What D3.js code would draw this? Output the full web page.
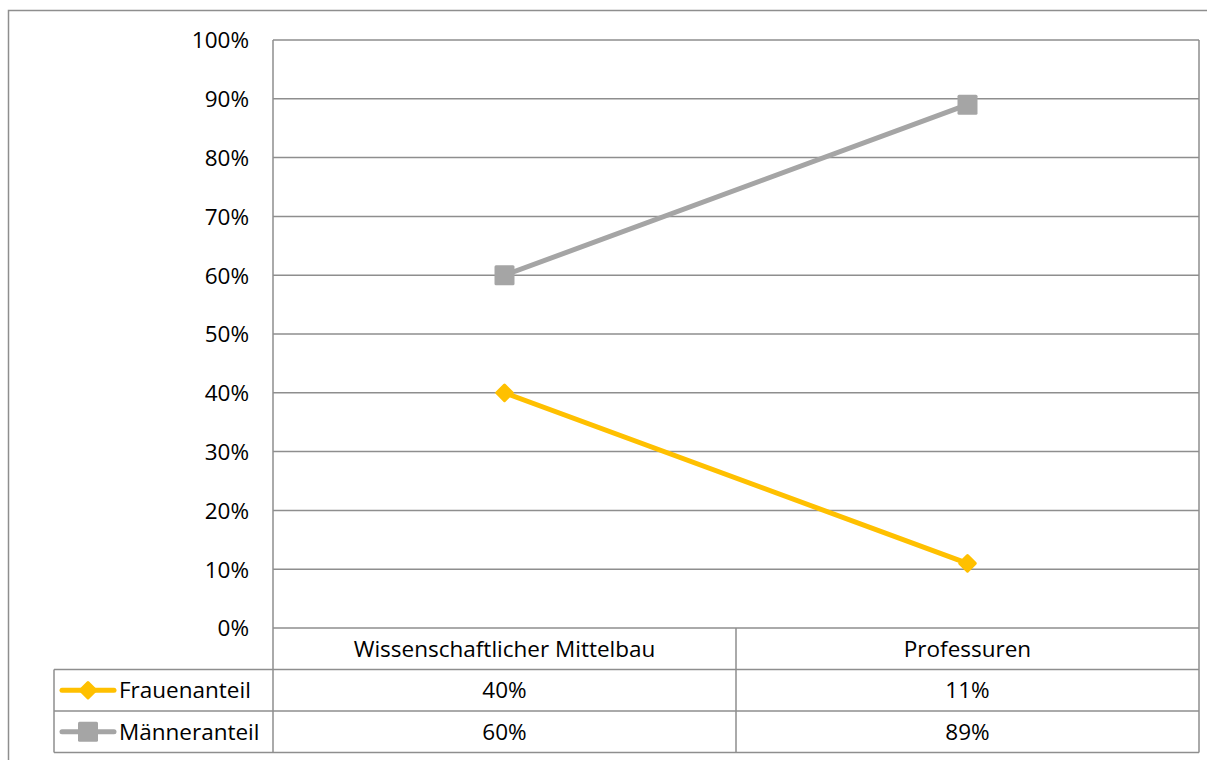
<!DOCTYPE html>
<html>
<head>
<meta charset="utf-8">
<script src="https://cdn.jsdelivr.net/npm/d3@7"></script>
<style>
  body { margin: 0; background: #fff; }
  svg text { font-family: "Open Sans", "Noto Sans", sans-serif; fill: #000; }
</style>
</head>
<body>
<div id="chart"></div>
<script>
// data
var categories = ["Wissenschaftlicher Mittelbau", "Professuren"];
var seriesNames = ["Frauenanteil", "Männeranteil"];
var frauen = [0.40, 0.11];
var maenner = [0.60, 0.89];
var yTicks = [0, 0.1, 0.2, 0.3, 0.4, 0.5, 0.6, 0.7, 0.8, 0.9, 1.0];

var colors = ["#FFC000", "#A5A5A5"];
var gridColor = "#8e8e8e";
var fontSize = "22.5px";

var width = 1207, height = 760;
var plot = { left: 273, right: 1199, top: 40, bottom: 628 };
var rowH = 41.5;
var tableLeft = 54;

var svg = d3.select("#chart").append("svg")
    .attr("width", width).attr("height", height);

// outer chart border
svg.append("rect")
    .attr("x", 8.5).attr("y", 10.5)
    .attr("width", 1220).attr("height", 780)
    .attr("fill", "none").attr("stroke", gridColor).attr("stroke-width", 1.5);

var x = d3.scaleBand().domain(categories).range([plot.left, plot.right]);
var y = d3.scaleLinear().domain([0, 1]).range([plot.bottom, plot.top]);

// gridlines
svg.append("g").selectAll("line")
    .data(yTicks)
    .enter().append("line")
    .attr("x1", plot.left).attr("x2", plot.right)
    .attr("y1", function(d) { return y(d); })
    .attr("y2", function(d) { return y(d); })
    .attr("stroke", gridColor).attr("stroke-width", 1.5);

// y axis labels
var yAxis = d3.axisLeft(y).tickValues(yTicks).tickSize(0).tickPadding(24)
    .tickFormat(d3.format(".0%"));
var ya = svg.append("g").attr("transform", "translate(" + plot.left + ",0)").call(yAxis);
ya.select(".domain").remove();
ya.selectAll("text").style("font-size", fontSize).attr("dy", "0.35em");

// table
var tableBottom = plot.bottom + rowH * 3;
var tg = svg.append("g").attr("stroke", gridColor).attr("stroke-width", 1.5);
// vertical lines
tg.append("line").attr("x1", plot.left).attr("x2", plot.left).attr("y1", plot.top).attr("y2", tableBottom);
tg.append("line").attr("x1", plot.right).attr("x2", plot.right).attr("y1", plot.top).attr("y2", tableBottom);
categories.slice(1).forEach(function(c) {
    tg.append("line").attr("x1", x(c)).attr("x2", x(c)).attr("y1", plot.bottom).attr("y2", tableBottom);
});
tg.append("line").attr("x1", tableLeft).attr("x2", tableLeft).attr("y1", plot.bottom + rowH).attr("y2", tableBottom);
// horizontal lines
[1, 2, 3].forEach(function(i) {
    tg.append("line").attr("x1", tableLeft).attr("x2", plot.right)
        .attr("y1", plot.bottom + rowH * i).attr("y2", plot.bottom + rowH * i);
});

// header
svg.append("g").selectAll("text")
    .data(categories)
    .enter().append("text")
    .attr("x", function(d) { return x(d) + x.bandwidth() / 2; })
    .attr("y", plot.bottom + rowH / 2)
    .attr("dy", "0.35em")
    .attr("text-anchor", "middle")
    .style("font-size", fontSize)
    .text(function(d) { return d; });

var allSeries = [frauen, maenner];
var pct = d3.format(".0%");

allSeries.forEach(function(vals, si) {
    var rowY = plot.bottom + rowH * (si + 1) + rowH / 2;
    // values
    svg.append("g").selectAll("text")
        .data(vals)
        .enter().append("text")
        .attr("x", function(d, i) { return x(categories[i]) + x.bandwidth() / 2; })
        .attr("y", rowY).attr("dy", "0.35em")
        .attr("text-anchor", "middle")
        .style("font-size", fontSize)
        .text(function(d) { return pct(d); });
    // legend key
    svg.append("line")
        .attr("x1", 62).attr("x2", 114).attr("y1", rowY).attr("y2", rowY)
        .attr("stroke", colors[si]).attr("stroke-width", 5).attr("stroke-linecap", "round");
    drawMarker(svg, si, 88, rowY);
    svg.append("text")
        .attr("x", 119).attr("y", rowY).attr("dy", "0.35em")
        .style("font-size", fontSize)
        .text(seriesNames[si]);

    // line
    var line = d3.line()
        .x(function(d, i) { return x(categories[i]) + x.bandwidth() / 2; })
        .y(function(d) { return y(d); });
    svg.append("path").datum(vals)
        .attr("d", line)
        .attr("fill", "none")
        .attr("stroke", colors[si]).attr("stroke-width", 5).attr("stroke-linecap", "round");
    vals.forEach(function(v, i) {
        drawMarker(svg, si, x(categories[i]) + x.bandwidth() / 2, y(v));
    });
});

function drawMarker(parent, si, cx, cy) {
    if (si === 0) {
        parent.append("rect")
            .attr("x", cx - 7).attr("y", cy - 7).attr("width", 14).attr("height", 14)
            .attr("rx", 1.5)
            .attr("transform", "rotate(45," + cx + "," + cy + ")")
            .attr("fill", colors[si]);
    } else {
        parent.append("rect")
            .attr("x", cx - 10).attr("y", cy - 10).attr("width", 20).attr("height", 20)
            .attr("rx", 1.5)
            .attr("fill", colors[si]);
    }
}
</script>
</body>
</html>
